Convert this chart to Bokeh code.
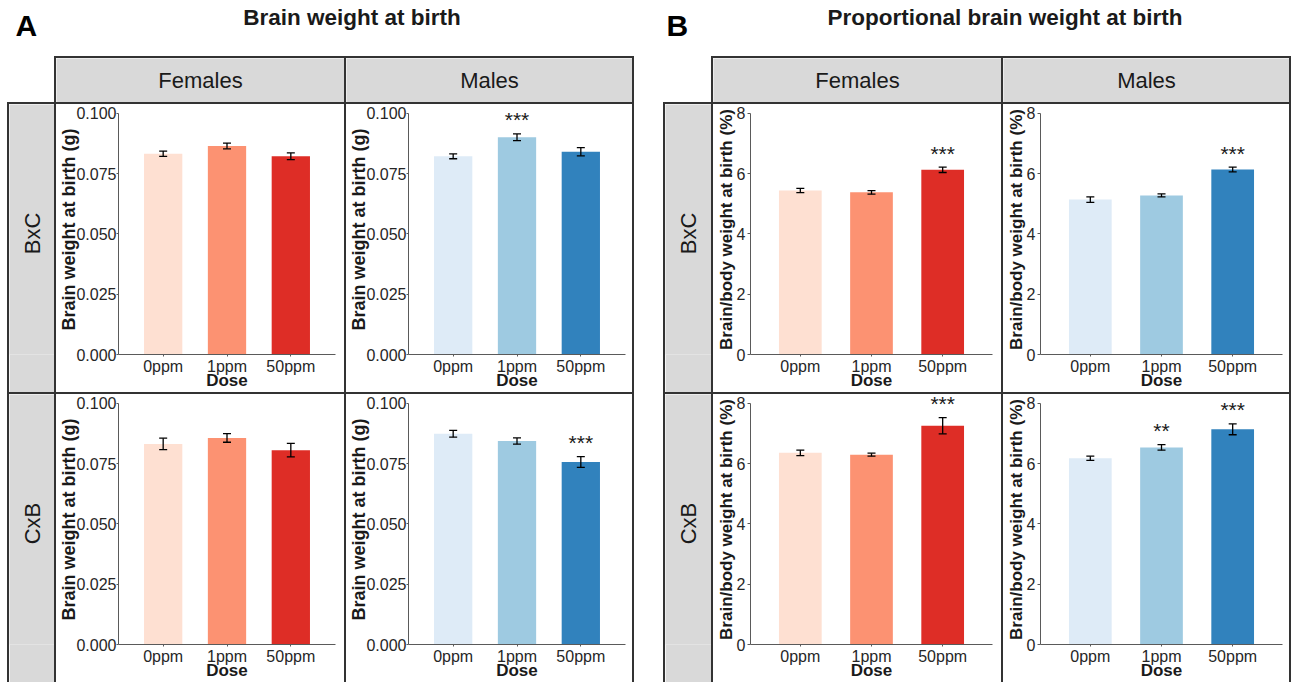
import math
from bokeh.plotting import figure
from bokeh.models import (ColumnDataSource, FactorRange, Range1d, FixedTicker,
                          NumeralTickFormatter, Spacer)
from bokeh.layouts import row, column
from bokeh.core.properties import value
from bokeh.embed import file_html
from bokeh.resources import INLINE

# ---------------- data ----------------
doses = ["0ppm", "1ppm", "50ppm"]
sexes = ["Females", "Males"]
crosses = ["BxC", "CxB"]

# Panel A: brain weight at birth (g), mean and s.e.
brain_F_BxC = [0.0833, 0.0865, 0.0822]
brain_F_BxC_se = [0.0011, 0.0012, 0.0014]
brain_M_BxC = [0.0822, 0.0901, 0.0841]
brain_M_BxC_se = [0.0010, 0.0014, 0.0017]
brain_F_CxB = [0.0832, 0.0857, 0.0806]
brain_F_CxB_se = [0.0024, 0.0018, 0.0028]
brain_M_CxB = [0.0874, 0.0844, 0.0757]
brain_M_CxB_se = [0.0014, 0.0013, 0.0022]

# Panel B: brain/body weight at birth (%), mean and s.e.
prop_F_BxC = [5.44, 5.38, 6.13]
prop_F_BxC_se = [0.07, 0.06, 0.09]
prop_M_BxC = [5.14, 5.28, 6.14]
prop_M_BxC_se = [0.09, 0.05, 0.08]
prop_F_CxB = [6.36, 6.30, 7.26]
prop_F_CxB_se = [0.09, 0.05, 0.27]
prop_M_CxB = [6.18, 6.54, 7.14]
prop_M_CxB_se = [0.07, 0.09, 0.18]

# significance labels
stars_A = {("Females", "BxC"): ["", "", ""], ("Males", "BxC"): ["", "***", ""],
           ("Females", "CxB"): ["", "", ""], ("Males", "CxB"): ["", "", "***"]}
stars_B = {("Females", "BxC"): ["", "", "***"], ("Males", "BxC"): ["", "", "***"],
           ("Females", "CxB"): ["", "", "***"], ("Males", "CxB"): ["", "**", "***"]}

ticks_A = [0.0, 0.025, 0.05, 0.075, 0.1]
ticks_B = [0, 2, 4, 6, 8]
limits_A = (0, 0.1)
limits_B = (0, 8)

# ---------------- style ----------------
FONT = "Liberation Sans"
reds = ["#FEE0D2", "#FC9272", "#DE2D26"]
blues = ["#DEEBF7", "#9ECAE1", "#3182BD"]
LINE = "#333333"
STRIP = "#d9d9d9"
TXT = "#1a1a1a"
HEADROOM = 1.037   # extra room above the axis top so significance marks are not clipped


def hline(w):
    return Spacer(width=w, height=2, styles={"background-color": LINE})


def vline(h):
    return Spacer(width=2, height=h, styles={"background-color": LINE})


def blank(w, h):
    return Spacer(width=w, height=h)


def strip(label, w, h, vertical=False):
    p = figure(width=w, height=h, x_range=Range1d(0, 1), y_range=Range1d(0, 1),
               output_backend="svg", toolbar_location=None, min_border=0, title=None,
               x_axis_location=None, y_axis_location=None)
    p.background_fill_color = STRIP
    p.border_fill_color = STRIP
    p.outline_line_color = None
    p.grid.visible = False
    p.text(x=[0.5], y=[0.5], text=[label], text_align="center", text_baseline="middle",
           angle=(math.pi / 2 if vertical else 0), y_offset=(4 if vertical else 0),
           text_font=value(FONT), text_font_size="22px", text_color=TXT)
    return p


def cell(means, ses, stars, colors, limits, ticks, fmt, ylabel, w, h, left, right, bottom,
         ylab_size, ylab_standoff, ytick_out, ylabel_standoff):
    p = figure(width=w, height=h,
               x_range=FactorRange(*doses, range_padding=0.2, range_padding_units="absolute"),
               y_range=Range1d(limits[0], limits[1] * HEADROOM), output_backend="svg",
               toolbar_location=None, title=None, min_border=0, min_border_left=left,
               min_border_right=right, min_border_top=0, min_border_bottom=bottom)
    p.outline_line_color = None
    p.grid.visible = False
    upper = [m + s for m, s in zip(means, ses)]
    lower = [m - s for m, s in zip(means, ses)]
    src = ColumnDataSource(dict(dose=doses, mean=means, upper=upper, lower=lower,
                                color=colors, star=stars))
    p.vbar(x="dose", top="mean", width=0.6, source=src, fill_color="color", line_color=None)
    p.segment(x0="dose", y0="lower", x1="dose", y1="upper", source=src,
              line_color="black", line_width=1.3)
    p.scatter(x="dose", y="upper", marker="dash", size=8, source=src,
              line_color="black", line_width=1.3)
    p.scatter(x="dose", y="lower", marker="dash", size=8, source=src,
              line_color="black", line_width=1.3)
    p.text(x="dose", y="upper", text="star", source=src, text_align="center",
           text_baseline="alphabetic", y_offset=-14, text_font=value(FONT),
           text_font_size="21px", text_color=TXT)

    for ax in (p.xaxis[0], p.yaxis[0]):
        ax.axis_line_color = "#5a5a5a"
        ax.major_tick_line_color = "#5a5a5a"
        ax.minor_tick_line_color = None
        ax.major_tick_out = 2
        ax.major_tick_in = 0
        ax.major_label_text_font = FONT
        ax.major_label_text_font_size = "16px"
        ax.major_label_text_color = "#262626"
        ax.axis_label_text_font = FONT
        ax.axis_label_text_font_style = "bold"
        ax.axis_label_text_color = TXT
    p.xaxis.axis_label = "Dose"
    p.xaxis.axis_label_text_font_size = "17px"
    p.xaxis.major_label_standoff = 1
    p.xaxis.axis_label_standoff = -7
    p.yaxis.axis_label = ylabel
    p.yaxis.axis_label_text_font_size = ylab_size
    p.yaxis.major_tick_out = ytick_out
    p.yaxis.major_label_standoff = ylabel_standoff
    p.yaxis.axis_label_standoff = ylab_standoff
    p.yaxis.bounds = limits
    p.yaxis.ticker = FixedTicker(ticks=ticks)
    p.yaxis.formatter = NumeralTickFormatter(format=fmt)
    return p


# ---------------- header ----------------
header = figure(width=1296, height=56, x_range=Range1d(0, 1296), y_range=Range1d(56, 0),
                output_backend="svg", toolbar_location=None, min_border=0, title=None,
                x_axis_location=None, y_axis_location=None)
header.outline_line_color = None
header.grid.visible = False
header.text(x=[15, 666], y=[25, 25], text=["A", "B"], text_align="left",
            text_baseline="alphabetic", text_font=value(FONT), text_font_size="30px",
            text_font_style="bold", text_color="black")
header.text(x=[351.5, 1004.5], y=[17, 17],
            text=["Brain weight at birth", "Proportional brain weight at birth"],
            text_align="center", text_baseline="alphabetic", text_font=value(FONT),
            text_font_size="22.5px", text_font_style="bold", text_color=TXT)

# ---------------- panels ----------------
A = {}
A[("Females", "BxC")] = (brain_F_BxC, brain_F_BxC_se)
A[("Males", "BxC")] = (brain_M_BxC, brain_M_BxC_se)
A[("Females", "CxB")] = (brain_F_CxB, brain_F_CxB_se)
A[("Males", "CxB")] = (brain_M_CxB, brain_M_CxB_se)
B = {}
B[("Females", "BxC")] = (prop_F_BxC, prop_F_BxC_se)
B[("Males", "BxC")] = (prop_M_BxC, prop_M_BxC_se)
B[("Females", "CxB")] = (prop_F_CxB, prop_F_CxB_se)
B[("Males", "CxB")] = (prop_M_CxB, prop_M_CxB_se)

ylab_A = "Brain weight at birth (g)"
ylab_B = "Brain/body weight at birth (%)"


def cellA(sex, cross):
    m, s = A[(sex, cross)]
    cols = reds if sex == "Females" else blues
    w = 288 if sex == "Females" else 286
    r = 9 if sex == "Females" else 7
    bot = 37 if cross == "BxC" else 38
    return cell(m, s, stars_A[(sex, cross)], cols, limits_A, ticks_A, "0.000", ylab_A,
                w, 288, 62, r, bot, "18px", -6, 2, 0)


def cellB(sex, cross):
    m, s = B[(sex, cross)]
    cols = reds if sex == "Females" else blues
    w = 288 if sex == "Females" else 286
    r = 9 if sex == "Females" else 7
    bot = 37 if cross == "BxC" else 38
    return cell(m, s, stars_B[(sex, cross)], cols, limits_B, ticks_B, "0", ylab_B,
                w, 288, 36, r, bot, "17px", -2, 3, 2)


panelA = column(
    row(blank(54, 46), column(hline(580), row(vline(44), strip("Females", 288, 44), vline(44),
                                               strip("Males", 286, 44), vline(44)))),
    row(blank(7, 2), hline(627)),
    row(blank(7, 288), vline(288), strip("BxC", 45, 288, True), vline(288),
        cellA("Females", "BxC"), vline(288), cellA("Males", "BxC"), vline(288)),
    row(blank(7, 2), hline(627)),
    row(blank(7, 288), vline(288), strip("CxB", 45, 288, True), vline(288),
        cellA("Females", "CxB"), vline(288), cellA("Males", "CxB"), vline(288)),
)

panelB = column(
    row(blank(48, 46), column(hline(580), row(vline(44), strip("Females", 288, 44), vline(44),
                                               strip("Males", 286, 44), vline(44)))),
    hline(628),
    row(vline(288), strip("BxC", 46, 288, True), vline(288),
        cellB("Females", "BxC"), vline(288), cellB("Males", "BxC"), vline(288)),
    hline(628),
    row(vline(288), strip("CxB", 46, 288, True), vline(288),
        cellB("Females", "CxB"), vline(288), cellB("Males", "CxB"), vline(288)),
)

main = row(panelA, blank(29, 626), panelB, blank(5, 626))
layout = column(header, main)

open("out.html", "w").write(file_html(layout, INLINE))
